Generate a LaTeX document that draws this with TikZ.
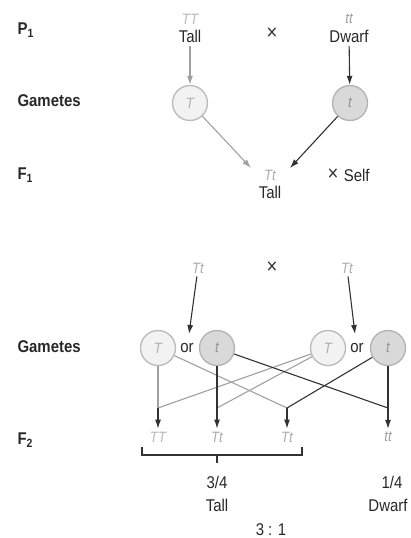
\documentclass[tikz,border=0pt]{standalone}
\usepackage{fontspec}
\setmainfont{Liberation Sans}[FakeStretch=0.88]
\usetikzlibrary{positioning}
\usetikzlibrary{arrows.meta}
\definecolor{lightline}{RGB}{160,160,160}
\definecolor{darkline}{RGB}{50,50,50}
\definecolor{inktext}{RGB}{40,40,40}
\newcommand{\bigsize}{\fontsize{17}{20}\selectfont}
\newcommand{\genosize}{\fontsize{15}{17}\selectfont}

\begin{document}
\begin{tikzpicture}[x=1pt, y=-1pt, >={Latex[length=9pt,width=6pt]},
lbl/.style={anchor=west, font=\bigsize\bfseries, text=inktext},
txt/.style={font=\bigsize, text=inktext, inner sep=3pt},
times/.style={font=\fontsize{21}{21}\selectfont, text=darkline, inner sep=2pt},
geno/.style={font=\genosize\itshape, text=#1, inner sep=3pt},
gamT/.style={circle, minimum size=35pt, inner sep=0pt, line width=1.4pt, draw=gray!52, fill=gray!10, font=\genosize\itshape, text=gray!62},
gamt/.style={circle, minimum size=35pt, inner sep=0pt, line width=1.4pt, draw=gray!58, fill=gray!30, font=\genosize\itshape, text=gray!85},
light/.style={draw=lightline, line width=1.1pt},
dark/.style={draw=darkline, line width=1.1pt}]

\useasboundingbox (0,0) rectangle (411,538);

% row labels
\node [lbl] (p1) at (14,30) {P\textsubscript{1}};
\node [lbl] (gam1) at (14,101) {Gametes};
\node [lbl] (f1) at (14,175) {F\textsubscript{1}};
\node [lbl] (gam2) at (14,347) {Gametes};
\node [lbl] (f2) at (14,440) {F\textsubscript{2}};

% parents
\node [geno=gray!55] (TT) at (190,19) {TT};
\node [txt, below=0pt of TT] (tallP) {Tall};
\node [times] (cross1) at (272,34) {×};
\node [geno=gray!75] (tt) at (349,19) {tt};
\node [txt, below=0pt of tt] (dwarfP) {Dwarf};

\node [gamT] (gT) at (190,103) {T};
\node [gamt] (gt) at (350,103) {t};
\draw [light,->] (tallP) -- (gT);
\draw [dark,->] (dwarfP) -- (gt);

% F1
\node [geno=gray!65] (Tt) at (270,175) {Tt};
\node [txt, below=0pt of Tt] (tallF) {Tall};
\node [times] (selfx) at (333,175) {×};
\node [txt, right=0pt of selfx] (self) {Self};
\coordinate (f1l) at (251,168);
\coordinate (f1r) at (290,168);
\draw [light,->] (gT) -- (f1l);
\draw [dark,->] (gt) -- (f1r);

% selfing
\node [geno=gray!65] (Tta) at (198,268) {Tt};
\node [times] (cross2) at (272,268) {×};
\node [geno=gray!65] (Ttb) at (347,268) {Tt};

\node [gamT] (T1) at (158,348) {T};
\node [txt] (or1) at (187,348) {or};
\node [gamt] (t1) at (217,348) {t};
\node [gamT] (T2) at (328,348) {T};
\node [txt] (or2) at (357,348) {or};
\node [gamt] (t2) at (388,348) {t};
\coordinate (in1) at (189,334);
\coordinate (in2) at (355,334);
\draw [dark,->] (Tta) -- (in1);
\draw [dark,->] (Ttb) -- (in2);

% F2
\node [geno=gray!55] (TTf) at (158,437) {TT};
\node [geno=gray!65] (Ttf) at (217,437) {Tt};
\node [geno=gray!65] (tTf) at (287,437) {Tt};
\node [geno=gray!75] (ttf) at (388,437) {tt};
\coordinate (e1) at (158,408);
\coordinate (e2) at (217,408);
\coordinate (e3) at (287,408);
\coordinate (e4) at (388,408);

\draw [light] (T1) -- (e1);
\draw [light] (T1) -- (e3);
\draw [light] (T2) -- (e1);
\draw [light] (T2) -- (e2);
\draw [dark] (t1) -- (e2);
\draw [dark] (t1) -- (e4);
\draw [dark] (t2) -- (e3);
\draw [dark] (t2) -- (e4);
\foreach \e/\g in {e1/TTf, e2/Ttf, e3/tTf, e4/ttf}
  \draw [dark,->] (\e) -- (\g);

\draw [dark] (142,447) -- (142,455) -- (302,455) -- (302,447);
\draw [dark] (217,455) -- (217,463);

\node [txt] (tallfrac) at (217,482) {3/4};
\node [txt] (tallF2) at (217,505) {Tall};
\node [txt] (dwarffrac) at (392,482) {1/4};
\node [txt] (dwarfF2) at (388,505) {Dwarf};
\node [txt] (ratio) at (271,530) {3 : 1};
\end{tikzpicture}
\end{document}
